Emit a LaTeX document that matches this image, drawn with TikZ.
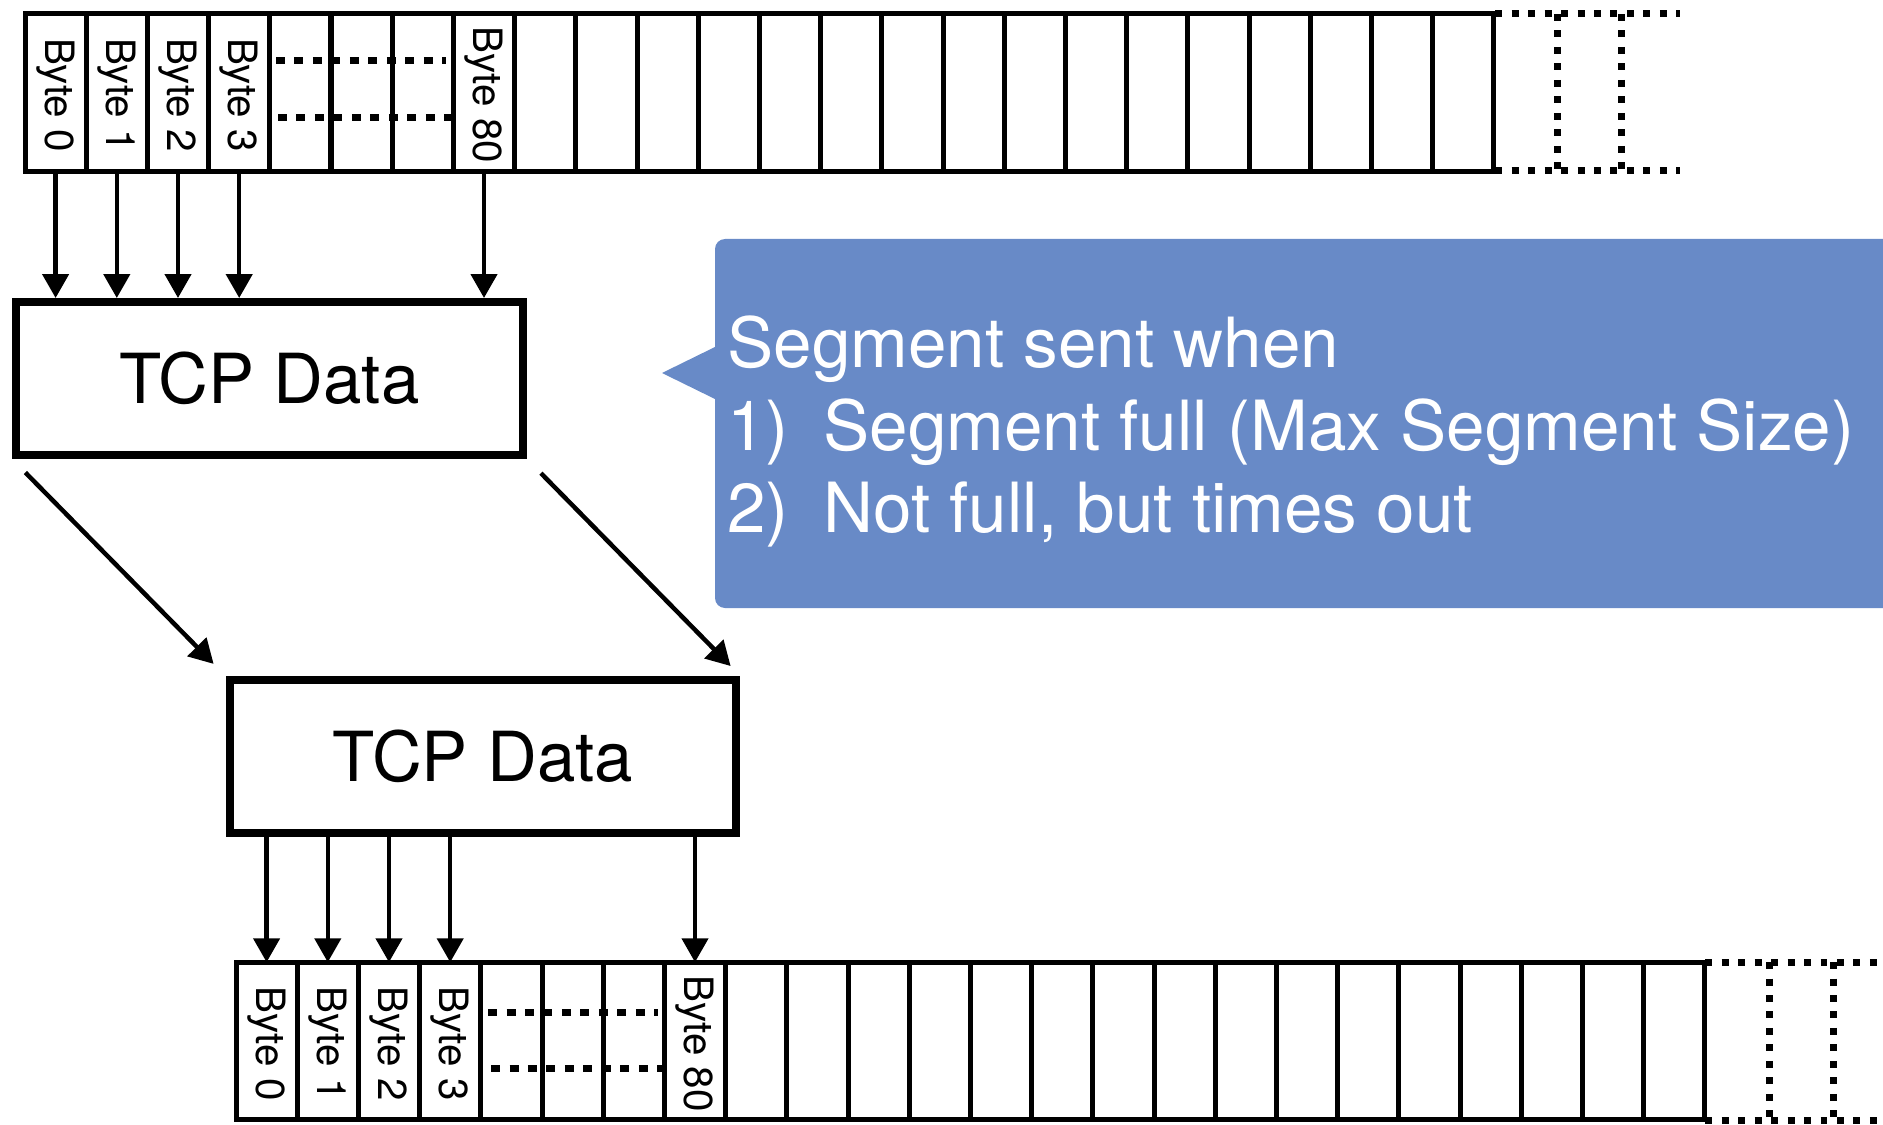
\documentclass[tikz,border=0pt]{standalone}
\usepackage{fontspec}
\setmainfont{TeX Gyre Heros}
\usetikzlibrary{arrows.meta}
\definecolor{cblue}{RGB}{104,138,199}
\begin{document}
\begin{tikzpicture}[x=0.02cm,y=-0.02cm,
  cell/.style={draw, line width=0.1cm, minimum width=1.224cm, minimum height=3.15cm, inner sep=0pt, outer sep=0pt},
  bytelbl/.style={font=\fontsize{23}{23}\selectfont, rotate=-90, inner sep=0pt},
  tcpbox/.style={draw, line width=0.16cm, minimum width=10.14cm, minimum height=3.06cm, inner sep=0pt, font=\fontsize{39.3}{39.3}\selectfont},
  arr/.style={line width=0.09cm, -{Triangle[length=0.48cm,width=0.52cm]}},
  dotsA/.style={line width=0.14cm, dash pattern=on 0.14cm off 0.19cm},
  dotsB/.style={line width=0.14cm, dash pattern=on 0.18cm off 0.19cm},
  notetxt/.style={font=\fontsize{39.4}{39.4}\selectfont, text=white, anchor=base west, inner sep=0pt}]
\useasboundingbox (0,0) rectangle (1883,1125);
\clip (0,0) rectangle (1883,1125);

% callout
\fill[cblue, rounded corners=0.2cm] (715,239) rectangle (1940,608);
\fill[cblue] (662,373) -- (717,346) -- (717,400) -- cycle;
\node[notetxt] (n0) at (727,367) {Segment sent when};
\node[notetxt] (n1a) at (727,450) {1)};
\node[notetxt] (n1b) at (823,450) {Segment full (Max Segment Size)};
\node[notetxt] (n2a) at (727,532) {2)};
\node[notetxt] (n2b) at (823,532) {Not full, but times out};

% top strip
\foreach \i in {0,...,23}
  \node[cell] (t\i) at ({55.6+61.2*\i},92.5) {};
\foreach \i/\t in {0/Byte 0,1/Byte 1,2/Byte 2,3/Byte 3,7/Byte 80}
  \node[bytelbl] (tl\i) at ([yshift=-0.05cm]t\i.center) {\t};
\draw[dotsB] (276,61) -- (446,61);
\draw[dotsB] (278,118) -- (458,118);
\draw[dotsA] (1495,14) -- (1680,14);
\draw[dotsA] (1495,171) -- (1680,171);
\draw[dotsA] (1557,14) -- (1557,171);
\draw[dotsA] (1621,14) -- (1621,171);

% boxes
\node[tcpbox] (box1) at (269.5,378.5) {TCP Data};
\node[tcpbox] (box2) at (483,756.5) {TCP Data};

\foreach \i in {0,1,2,3,7}
  \draw[arr] (t\i.south) -- (t\i.south |- box1.north);

\draw[arr, shorten <=0.38cm, shorten >=0.34cm] (box1.south west) -- (box2.north west);
\draw[arr, shorten <=0.40cm, shorten >=0.28cm] (box1.south east) -- (box2.north east);

% bottom strip
\foreach \i in {0,...,23}
  \node[cell] (c\i) at ({266.6+61.2*\i},1041) {};
\foreach \i/\t in {0/Byte 0,1/Byte 1,2/Byte 2,3/Byte 3,7/Byte 80}
  \node[bytelbl] (cl\i) at ([yshift=-0.05cm]c\i.center) {\t};
\draw[dotsB] (488,1012) -- (658,1012);
\draw[dotsB] (491,1068) -- (670,1068);
\draw[dotsA] (1705,962) -- (1890,962);
\draw[dotsA] (1705,1120) -- (1890,1120);
\draw[dotsA] (1769,962) -- (1769,1120);
\draw[dotsA] (1833,962) -- (1833,1120);

\foreach \i in {0,1,2,3,7}
  \draw[arr] (c\i.north |- box2.south) -- (c\i.north);
\end{tikzpicture}
\end{document}
